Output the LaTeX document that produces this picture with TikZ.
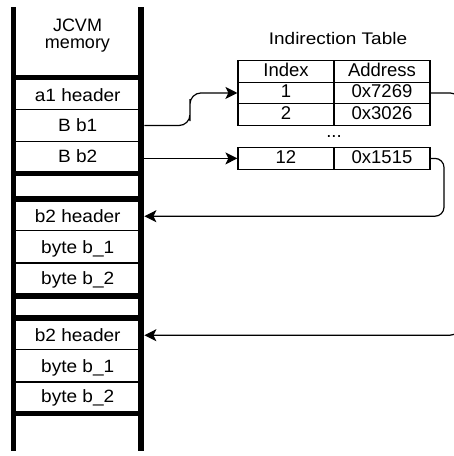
\documentclass[tikz,border=0pt]{standalone}
\usepackage{fontspec}
\setmainfont{Liberation Sans}
\newfontfamily\memfont{Liberation Sans}[FakeStretch=1.07]
\newfontfamily\titfont{Liberation Sans}[FakeStretch=1.13]
\usetikzlibrary{arrows.meta}
\begin{document}
\begin{tikzpicture}[x=1pt,y=-1pt,
  memcell/.style={minimum width=133pt,minimum height=28pt,inner sep=0pt,
    font=\memfont\fontsize{17.8}{20}\selectfont,text height=12.8pt,text depth=0pt},
  tcell/.style={draw,line width=1.2pt,minimum width=96pt,minimum height=21.5pt,inner sep=0pt,
    font=\fontsize{18.5}{20}\selectfont,text height=13.2pt,text depth=3.8pt},
  bar/.style={line width=5.5pt},
  sep/.style={line width=5.5pt},
  thin/.style={line width=1.2pt},
  conn/.style={line width=1.2pt,-{Stealth[length=12pt,width=12pt,inset=3pt]}},
  lbl/.style={inner sep=0pt,anchor=base,font=\fontsize{18}{20}\selectfont}]
\useasboundingbox (0,0) rectangle (454,456);
\clip (0,0) rectangle (454,456);
% memory column
\draw[bar] (13.5,7) -- (13.5,451);
\draw[bar] (141.2,7) -- (141.2,451);
\node[lbl] (jcvm) at (77.5,31.7) {JCVM};
\node[lbl] (memt) at (77.5,48.3) {memory};
\foreach \y in {77.5,173.7,199.2,295.8,318,413.5}
  \draw[sep] (13.5,\y) -- (141.2,\y);
\foreach \y in {109.3,141.7,230.7,263,349.7,382}
  \draw[thin] (13.5,\y) -- (141.2,\y);
\node[memcell] (a1) at (77.7,94.7) {a1 header};
\node[memcell] (b1) at (77.7,125.5) {B b1};
\node[memcell] (b2) at (77.7,156.2) {B b2};
\node[memcell] (h1) at (77.7,216.2) {b2 header};
\node[memcell] (by11) at (77.7,246.8) {byte b\_1};
\node[memcell] (by12) at (77.7,278) {byte b\_2};
\node[memcell] (h2) at (77.7,335.2) {b2 header};
\node[memcell] (by21) at (77.7,365.8) {byte b\_1};
\node[memcell] (by22) at (77.7,396.3) {byte b\_2};
% indirection table
\node[lbl,font=\titfont\fontsize{16.8}{20}\selectfont] (title) at (338,44.7) {Indirection Table};
\node[tcell] (hi) at (286,71.45) {Index};
\node[tcell] (ha) at (382,71.45) {Address};
\node[tcell] (r1i) at (286,92.95) {1};
\node[tcell] (r1a) at (382,92.95) {0x7269};
\node[tcell] (r2i) at (286,114.45) {2};
\node[tcell] (r2a) at (382,114.45) {0x3026};
\node[lbl,font=\fontsize{18.5}{20}\selectfont] (dots) at (334,137) {...};
\node[tcell] (r12i) at (286,158.4) {12};
\node[tcell] (r12a) at (382,158.4) {0x1515};
% connectors
\coordinate (bendA) at (190,110);
\coordinate (bendB) at (444,190);
\coordinate (bendC) at (460,200);
\draw[conn,rounded corners=11pt] (b1.east) -| (bendA) |- (r1i.west);
\draw[conn] (r12i.west -| b2.east) -- (r12i.west);
\draw[conn,rounded corners=9pt] (r12a.east) -| (bendB) |- (h1.east);
\draw[conn,rounded corners=10pt] (r1a.east) -| (bendC) |- (h2.east);
\end{tikzpicture}
\end{document}
